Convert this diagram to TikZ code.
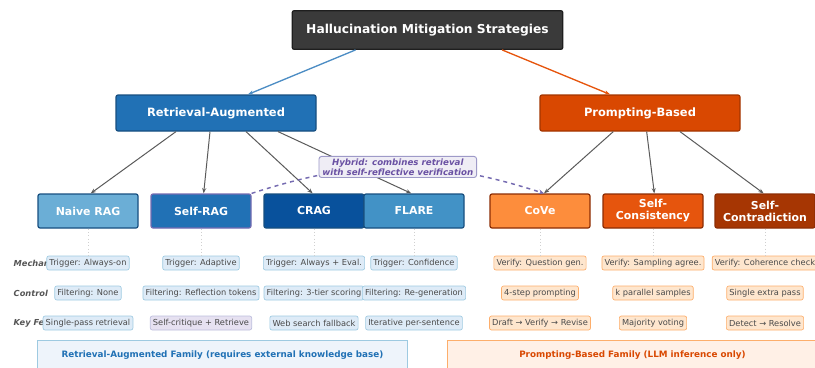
\documentclass[tikz,border=0pt]{standalone}
\usepackage{fontspec}
\setmainfont{DejaVu Sans}
\usetikzlibrary{arrows.meta}
\definecolor{rootfill}{HTML}{3A3A3A}
\definecolor{rootline}{HTML}{1E1E1E}
\definecolor{ragfill}{HTML}{2171B5}
\definecolor{ragline}{HTML}{174F80}
\definecolor{promptfill}{HTML}{D94801}
\definecolor{promptline}{HTML}{A33500}
\definecolor{naivefill}{HTML}{6BAED6}
\definecolor{craggfill}{HTML}{08519C}
\definecolor{flarefill}{HTML}{4292C6}
\definecolor{covefill}{HTML}{FD8D3C}
\definecolor{consfill}{HTML}{E6550D}
\definecolor{contrafill}{HTML}{A63603}
\definecolor{orangeline}{HTML}{8C2D04}
\definecolor{hybridfill}{HTML}{EFEDF5}
\definecolor{hybridline}{HTML}{9E9AC8}
\definecolor{hybridtext}{HTML}{6A51A3}
\definecolor{hybridcurve}{HTML}{756BB1}
\definecolor{bluetagfill}{HTML}{DEEBF7}
\definecolor{bluetagline}{HTML}{9ECAE1}
\definecolor{orangetagfill}{HTML}{FEE6CE}
\definecolor{orangetagline}{HTML}{FDAE6B}
\definecolor{purpletagfill}{HTML}{E6E1F1}
\definecolor{purpletagline}{HTML}{BCBDDC}
\definecolor{tagtext}{HTML}{4A4A4A}
\definecolor{rowgray}{HTML}{555555}
\definecolor{linkgray}{HTML}{5A5A5A}
\definecolor{guidegray}{HTML}{D0D0D0}
\definecolor{bluebandfill}{HTML}{EEF4FB}
\definecolor{orangebandfill}{HTML}{FFF0E6}

\begin{document}
\begin{tikzpicture}[x=0.75pt, y=-0.75pt,
	box/.style={draw, rounded corners=1.5pt, line width=0.9pt, text=white, align=center,
		font=\bfseries\fontsize{8.2}{9}\selectfont, minimum width=75pt, minimum height=25.5pt, inner sep=1pt},
	branch/.style={box, minimum width=150pt, minimum height=27pt, font=\bfseries\fontsize{8.6}{10}\selectfont},
	tag/.style={draw, rounded corners=1.5pt, line width=0.5pt, text=tagtext,
		font=\fontsize{6.2}{7.5}\selectfont, minimum height=10.5pt, inner xsep=2pt, inner ysep=0pt},
	bluetag/.style={tag, fill=bluetagfill, draw=bluetagline},
	orangetag/.style={tag, fill=orangetagfill, draw=orangetagline},
	rowlabel/.style={anchor=west, text=rowgray, font=\bfseries\itshape\fontsize{6.2}{7.5}\selectfont},
	link/.style={-{Stealth[length=4pt,width=3pt]}, draw=linkgray, line width=0.75pt},
	guide/.style={draw=guidegray, dotted, line width=0.5pt},
	band/.style={draw, line width=0.7pt, minimum width=278pt, minimum height=22.5pt,
		font=\bfseries\fontsize{6.6}{7.5}\selectfont}]

	\clip (0,0) rectangle (815,368);

	\node[box, fill=rootfill, draw=rootline, minimum width=203pt, minimum height=29pt,
		font=\bfseries\fontsize{9.2}{11}\selectfont] (root) at (427.5,30) {Hallucination Mitigation Strategies};

	\node[branch, fill=ragfill, draw=ragline] (rag) at (216,113) {Retrieval-Augmented};
	\node[branch, fill=promptfill, draw=promptline] (prompt) at (640,113) {Prompting-Based};

	\draw[-{Stealth[length=4pt,width=3pt]}, draw=ragfill!80!white, line width=1pt] ([xshift=-54pt]root.south) -- ([xshift=24pt]rag.north);
	\draw[-{Stealth[length=4pt,width=3pt]}, draw=consfill, line width=1pt] ([xshift=56pt]root.south) -- ([xshift=-22.5pt]prompt.north);

	% retrieval children
	\node[box, fill=naivefill, draw=ragline] (naive) at (88,211) {Naive RAG};
	\node[box, fill=ragfill, draw=hybridcurve] (selfrag) at (201,211) {Self-RAG};
	\node[box, fill=craggfill, draw=ragline] (crag) at (314,211) {CRAG};
	\node[box, fill=flarefill, draw=ragline] (flare) at (414,211) {FLARE};

	% prompting children
	\node[box, fill=covefill, draw=orangeline] (cove) at (540,211) {CoVe};
	\node[box, fill=consfill, draw=orangeline] (selfcons) at (653,211) {Self-\\Consistency};
	\node[box, fill=contrafill, draw=orangeline] (selfcontra) at (765,211) {Self-\\Contradiction};

	\draw[link] ([xshift=-30pt]rag.south) -- ([xshift=2pt]naive.north);
	\draw[link] ([xshift=-4.5pt]rag.south) -- ([xshift=2pt]selfrag.north);
	\draw[link] ([xshift=22.5pt]rag.south) -- ([xshift=-1pt]crag.north);
	\draw[link] ([xshift=46.5pt]rag.south) -- ([xshift=-2pt]flare.north);
	\draw[link] ([xshift=-20pt]prompt.south) -- ([xshift=3pt]cove.north);
	\draw[link] ([xshift=5pt]prompt.south) -- ([xshift=1pt]selfcons.north);
	\draw[link] ([xshift=30pt]prompt.south) -- ([xshift=-1pt]selfcontra.north);

	\draw[hybridcurve, dashed, line width=1.1pt, -{Stealth[length=4pt,width=3.5pt]}]
		(selfrag.north east) to[bend left=18]
		node[solid, draw=hybridline, fill=hybridfill, rounded corners=2pt, line width=0.7pt, text=hybridtext,
			font=\bfseries\itshape\fontsize{6.5}{7.8}\selectfont, align=center, inner xsep=2.5pt, inner ysep=1.5pt] (hybrid)
		{Hybrid: combines retrieval\\with self-reflective verification}
		([xshift=3pt]cove.north);

	% row labels
	\node[rowlabel] (mechlabel) at (9,263) {Mechanism};
	\node[rowlabel] (ctrllabel) at (9,293) {Control};
	\node[rowlabel] (keylabel) at (9,323) {Key Features};

	\node[bluetag] (m1) at (88,263) {Trigger: Always-on};
	\node[bluetag] (m2) at (201,263) {Trigger: Adaptive};
	\node[bluetag] (m3) at (314,263) {Trigger: Always + Eval.};
	\node[bluetag] (m4) at (414,263) {Trigger: Confidence};
	\node[orangetag] (m5) at (540,263) {Verify: Question gen.};
	\node[orangetag] (m6) at (653,263) {Verify: Sampling agree.};
	\node[orangetag] (m7) at (765,263) {Verify: Coherence check};

	\node[bluetag] (c1) at (88,293) {Filtering: None};
	\node[bluetag] (c2) at (201,293) {Filtering: Reflection tokens};
	\node[bluetag] (c3) at (314,293) {Filtering: 3-tier scoring};
	\node[bluetag] (c4) at (414,293) {Filtering: Re-generation};
	\node[orangetag] (c5) at (540,293) {4-step prompting};
	\node[orangetag] (c6) at (653,293) {k parallel samples};
	\node[orangetag] (c7) at (765,293) {Single extra pass};

	\node[bluetag] (k1) at (88,323) {Single-pass retrieval};
	\node[tag, fill=purpletagfill, draw=purpletagline] (k2) at (201,323) {Self-critique + Retrieve};
	\node[bluetag] (k3) at (314,323) {Web search fallback};
	\node[bluetag] (k4) at (414,323) {Iterative per-sentence};
	\node[orangetag] (k5) at (540,323) {Draft → Verify → Revise};
	\node[orangetag] (k6) at (653,323) {Majority voting};
	\node[orangetag] (k7) at (765,323) {Detect → Resolve};

	\draw[guide] (naive.south) -- (m1.north);
	\draw[guide] (selfrag.south) -- (m2.north);
	\draw[guide] (crag.south) -- (m3.north);
	\draw[guide] (flare.south) -- (m4.north);
	\draw[guide] (cove.south) -- (m5.north);
	\draw[guide] (selfcons.south) -- (m6.north);
	\draw[guide] (selfcontra.south) -- (m7.north);

	\node[band, fill=bluebandfill, draw=bluetagline, text=ragfill] (ragband) at (222.5,355)
		{Retrieval-Augmented Family (requires external knowledge base)};
	\node[band, fill=orangebandfill, draw=orangetagline, text=promptfill] (promptband) at (632.5,355)
		{Prompting-Based Family (LLM inference only)};
\end{tikzpicture}
\end{document}
